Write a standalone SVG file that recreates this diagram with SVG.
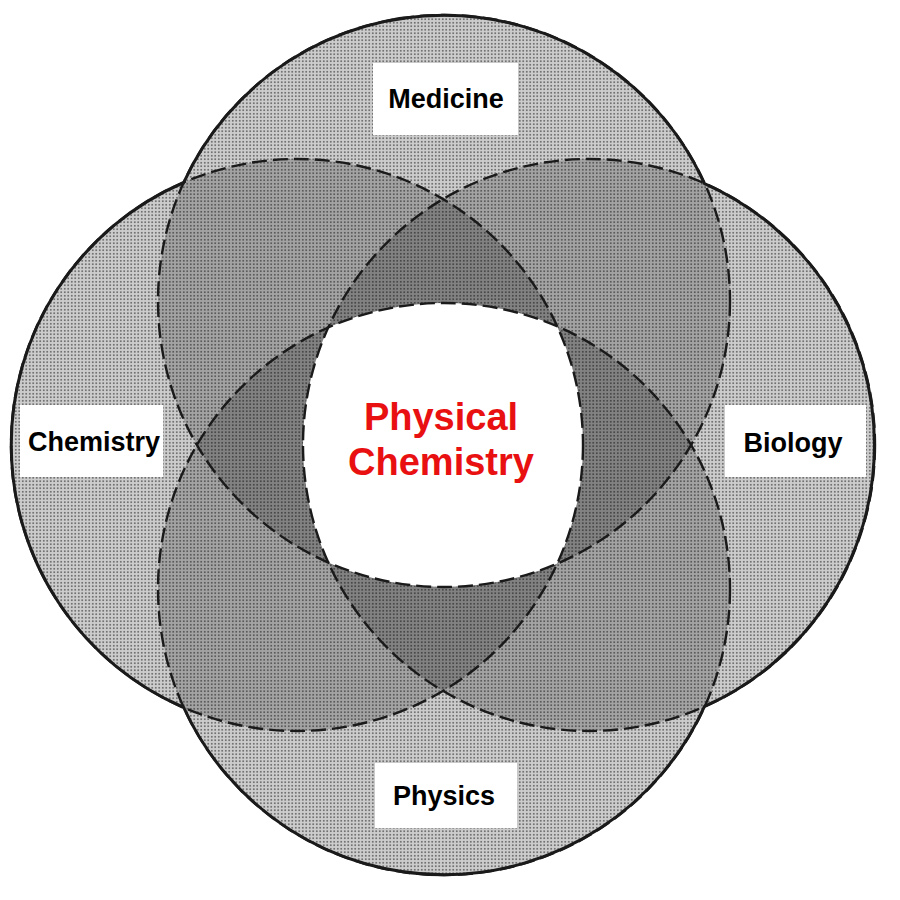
<svg xmlns="http://www.w3.org/2000/svg" width="900" height="900" viewBox="0 0 900 900">
  <style>
    .fill { fill: #000; fill-opacity: 0.2; stroke: none; }
    .dash { fill: none; stroke: #1a1a1a; stroke-width: 2.4; stroke-dasharray: 15 6; }
    .solid { fill: none; stroke: #1a1a1a; stroke-width: 3; stroke-linejoin: round; }
    .box { fill: #fff; stroke: none; }
    .lbl { font-family: "Liberation Sans", Arial, sans-serif; font-weight: bold; font-size: 27px; fill: #000; text-anchor: middle; }
    .ctr { font-family: "Liberation Sans", Arial, sans-serif; font-weight: bold; font-size: 38px; fill: #e81010; text-anchor: middle; }
  </style>
  <defs>
    <pattern id="dots" width="3.5" height="3.5" patternUnits="userSpaceOnUse">
      <circle cx="1.75" cy="1.75" r="0.7" fill="#000"/>
    </pattern>
    <clipPath id="cL"><circle cx="297" cy="445" r="286"/></clipPath>
    <clipPath id="cR"><circle cx="589" cy="445" r="286"/></clipPath>
    <clipPath id="cT"><circle cx="444" cy="301" r="286"/></clipPath>
  </defs>
  <rect width="900" height="900" fill="#fff"/>

  <g id="fills">
    <circle class="fill" cx="444" cy="301" r="286"/>
    <circle class="fill" cx="297" cy="445" r="286"/>
    <circle class="fill" cx="589" cy="445" r="286"/>
    <circle class="fill" cx="444" cy="589" r="286"/>
    <path fill="url(#dots)" d="M183.7,182.5 A286,286 0 0 1 704.5,183.6 A286,286 0 0 1 704.5,706.4 A286,286 0 0 1 183.7,707.5 A286,286 0 0 1 183.7,182.5 Z"/>
  </g>

  <g id="physical-chemistry">
    <g clip-path="url(#cL)"><g clip-path="url(#cR)"><g clip-path="url(#cT)">
      <circle cx="444" cy="589" r="286" fill="#fff"/>
    </g></g></g>
    <text class="ctr" x="441" y="430">Physical</text>
    <text class="ctr" x="441" y="475">Chemistry</text>
  </g>

  <g id="medicine">
    <circle class="dash" cx="444" cy="301" r="286"/>
    <rect class="box" x="373" y="63" width="145" height="72"/>
    <text class="lbl" x="446" y="108">Medicine</text>
  </g>
  <g id="chemistry">
    <circle class="dash" cx="297" cy="445" r="286"/>
    <rect class="box" x="20" y="405" width="143" height="72"/>
    <text class="lbl" x="94" y="451">Chemistry</text>
  </g>
  <g id="biology">
    <circle class="dash" cx="589" cy="445" r="286"/>
    <rect class="box" x="725" y="405" width="141" height="72"/>
    <text class="lbl" x="793" y="452">Biology</text>
  </g>
  <g id="physics">
    <circle class="dash" cx="444" cy="589" r="286"/>
    <rect class="box" x="375" y="763" width="142" height="65"/>
    <text class="lbl" x="444" y="805">Physics</text>
  </g>

  <g id="connectors">
    <path class="solid" d="M183.7,182.5 A286,286 0 0 1 704.5,183.6 A286,286 0 0 1 704.5,706.4 A286,286 0 0 1 183.7,707.5 A286,286 0 0 1 183.7,182.5 Z"/>
  </g>
</svg>
